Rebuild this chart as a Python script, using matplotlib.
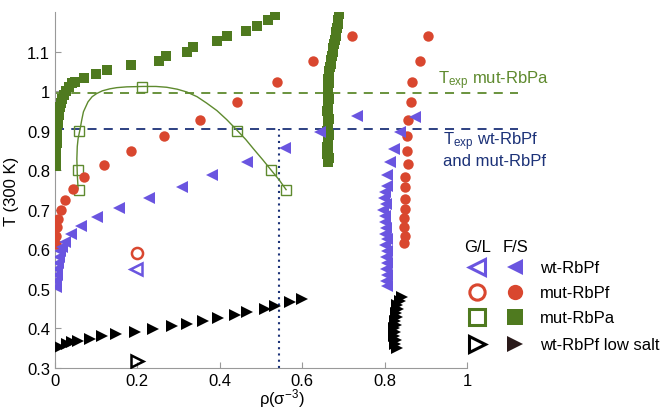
import matplotlib
matplotlib.use("Agg")
import matplotlib.pyplot as plt

plt.rcParams["font.family"] = ["Liberation Sans", "DejaVu Sans"]
plt.rcParams["mathtext.fontset"] = "custom"
plt.rcParams["mathtext.rm"] = "Liberation Sans"
plt.rcParams["mathtext.it"] = "Liberation Sans"

GREEN = "#4f7a1f"
RED = "#d9472f"
BLUE = "#6a55e0"
NAVY = "#1c3278"

# mut-RbPa F/S (filled squares)
rbpa_fs_rho = [0.002, 0.002, 0.002, 0.003, 0.003, 0.003, 0.004, 0.004, 0.005, 0.005,
               0.006, 0.007, 0.008, 0.009, 0.010, 0.012, 0.014, 0.017, 0.021, 0.026,
               0.033, 0.042, 0.048, 0.071, 0.100, 0.126, 0.184, 0.252, 0.270, 0.320,
               0.335, 0.393, 0.417, 0.463, 0.490, 0.518, 0.535,
               0.662, 0.664, 0.661, 0.663, 0.660, 0.663, 0.662, 0.664, 0.661, 0.663,
               0.662, 0.664, 0.662, 0.661, 0.663, 0.662, 0.664, 0.663, 0.662, 0.663,
               0.664, 0.663, 0.665, 0.666, 0.667, 0.669, 0.671, 0.672, 0.674, 0.676,
               0.677, 0.679, 0.681, 0.683, 0.685, 0.686, 0.688, 0.689]
rbpa_fs_T = [0.81, 0.82, 0.83, 0.84, 0.85, 0.86, 0.87, 0.88, 0.89, 0.90,
             0.91, 0.92, 0.93, 0.94, 0.95, 0.96, 0.97, 0.98, 0.99, 1.00,
             1.01, 1.02, 1.024, 1.034, 1.044, 1.054, 1.067, 1.077, 1.090, 1.100,
             1.113, 1.128, 1.140, 1.153, 1.166, 1.180, 1.193,
             0.82, 0.83, 0.84, 0.85, 0.86, 0.87, 0.88, 0.89, 0.90, 0.91,
             0.92, 0.93, 0.94, 0.95, 0.96, 0.97, 0.98, 0.99, 1.00, 1.01,
             1.02, 1.03, 1.04, 1.05, 1.06, 1.07, 1.08, 1.09, 1.10, 1.11,
             1.12, 1.13, 1.14, 1.15, 1.16, 1.17, 1.18, 1.195]

# mut-RbPa G/L (open squares) and fitted curve
rbpa_gl_rho = [0.057, 0.055, 0.059, 0.212, 0.443, 0.525, 0.561]
rbpa_gl_T = [0.751, 0.800, 0.900, 1.010, 0.900, 0.800, 0.751]
curve_rho = [0.056, 0.054, 0.053, 0.054, 0.056, 0.061, 0.065, 0.069, 0.080, 0.090, 0.101,
             0.115, 0.133, 0.150, 0.174, 0.214, 0.245, 0.271, 0.297, 0.320, 0.345, 0.368,
             0.393, 0.417, 0.443, 0.463, 0.482, 0.504, 0.525, 0.544, 0.561]
curve_T = [0.753, 0.790, 0.829, 0.860, 0.880, 0.905, 0.928, 0.948, 0.973, 0.986, 0.994,
           1.001, 1.006, 1.009, 1.011, 1.012, 1.012, 1.010, 1.005, 0.998, 0.986, 0.970,
           0.951, 0.928, 0.900, 0.878, 0.854, 0.827, 0.800, 0.776, 0.751]

# mut-RbPf F/S (filled circles)
rbpf_mut_rho = [0.002, 0.002, 0.004, 0.008, 0.014, 0.024, 0.043, 0.070, 0.120, 0.184,
                0.265, 0.352, 0.442, 0.539, 0.626, 0.721,
                0.905, 0.886, 0.866, 0.864, 0.857, 0.854, 0.854, 0.857, 0.850, 0.850,
                0.850, 0.850, 0.847, 0.847, 0.850, 0.847]
rbpf_mut_T = [0.614, 0.634, 0.657, 0.677, 0.700, 0.725, 0.753, 0.783, 0.814, 0.849,
              0.887, 0.928, 0.973, 1.024, 1.077, 1.140,
              1.140, 1.077, 1.024, 0.973, 0.928, 0.887, 0.849, 0.816, 0.784, 0.757,
              0.728, 0.703, 0.680, 0.657, 0.634, 0.616]

# wt-RbPf F/S (filled left triangles)
rbpf_wt_rho = [0.002, 0.003, 0.004, 0.005, 0.007, 0.009, 0.012, 0.016, 0.024, 0.039,
               0.063, 0.102, 0.155, 0.228, 0.308, 0.381, 0.466, 0.558, 0.643, 0.733,
               0.874, 0.837, 0.823, 0.813, 0.806, 0.806, 0.801, 0.799, 0.803, 0.797,
               0.802, 0.800, 0.804, 0.801, 0.805, 0.802, 0.805, 0.803, 0.806, 0.803,
               0.806, 0.804, 0.806]
rbpf_wt_T = [0.505, 0.520, 0.535, 0.550, 0.565, 0.580, 0.595, 0.607, 0.619, 0.639,
             0.660, 0.682, 0.705, 0.730, 0.758, 0.789, 0.822, 0.857, 0.897, 0.938,
             0.935, 0.897, 0.854, 0.822, 0.789, 0.761, 0.745, 0.730, 0.715, 0.700,
             0.685, 0.670, 0.655, 0.640, 0.625, 0.610, 0.595, 0.580, 0.565, 0.550,
             0.535, 0.520, 0.508]

# wt-RbPf low salt F/S (filled right triangles)
lowsalt_rho = [0.012, 0.029, 0.041, 0.056, 0.085, 0.114, 0.148, 0.194, 0.238, 0.284,
               0.320, 0.359, 0.396, 0.437, 0.466, 0.510, 0.534, 0.570, 0.600,
               0.830, 0.825, 0.828, 0.822, 0.826, 0.823, 0.828, 0.825, 0.830, 0.827,
               0.833, 0.831, 0.838, 0.842]
lowsalt_T = [0.353, 0.361, 0.366, 0.369, 0.373, 0.381, 0.386, 0.391, 0.399, 0.406,
             0.411, 0.419, 0.427, 0.434, 0.442, 0.449, 0.457, 0.467, 0.475,
             0.350, 0.360, 0.370, 0.380, 0.390, 0.400, 0.410, 0.420, 0.430, 0.440,
             0.450, 0.460, 0.470, 0.480]

# single G/L points
gl_rbpf_mut = (0.200, 0.591)
gl_rbpf_wt = (0.197, 0.550)
gl_lowsalt = (0.200, 0.318)

T_exp_rbpa = 0.995
T_exp_rbpf = 0.905
rho_dotted = 0.544

fig = plt.figure(figsize=(6.67, 4.10), dpi=100)
ax = fig.add_axes([0.0825, 0.10, 0.6175, 0.868])

# reference lines
ax.plot([0, 1.125], [T_exp_rbpa, T_exp_rbpa], ls=(0, (5, 4)), color="#5e8a2e", lw=1.3, clip_on=False, zorder=1)
ax.plot([0, 1.125], [T_exp_rbpf, T_exp_rbpf], ls=(0, (5, 4)), color=NAVY, lw=1.3, clip_on=False, zorder=1)
ax.plot([rho_dotted, rho_dotted], [0.3, T_exp_rbpf], ls=(0, (1, 2)), color=NAVY, lw=1.5, zorder=1)

# fit curve and G/L squares
ax.plot(curve_rho, curve_T, color="#5e8a2e", lw=1.0, zorder=2)
ax.plot(rbpa_gl_rho, rbpa_gl_T, "s", mfc="none", mec="#5e8a2e", ms=7, mew=1.0, zorder=3)

ax.plot(rbpa_fs_rho, rbpa_fs_T, "s", color=GREEN, ms=6.5, mew=0, zorder=3)
ax.plot(rbpf_mut_rho, rbpf_mut_T, "o", color=RED, ms=7.5, mew=0, zorder=3)
ax.plot(rbpf_wt_rho, rbpf_wt_T, "<", color=BLUE, ms=8, mew=0, zorder=3)
ax.plot(lowsalt_rho, lowsalt_T, ">", color="black", ms=8, mew=0, zorder=3)

ax.plot(*gl_rbpf_mut, "o", mfc="none", mec=RED, ms=8, mew=1.8, zorder=3)
ax.plot(*gl_rbpf_wt, "<", mfc="none", mec=BLUE, ms=8, mew=1.8, zorder=3)
ax.plot(*gl_lowsalt, ">", mfc="none", mec="black", ms=8, mew=1.8, zorder=3)

ax.set_xlim(0, 1)
ax.set_ylim(0.3, 1.2)
ax.set_xticks([0, 0.2, 0.4, 0.6, 0.8, 1])
ax.set_xticklabels(["0", "0.2", "0.4", "0.6", "0.8", "1"])
ax.set_yticks([0.3, 0.4, 0.5, 0.6, 0.7, 0.8, 0.9, 1.0, 1.1])
ax.set_yticklabels(["0.3", "0.4", "0.5", "0.6", "0.7", "0.8", "0.9", "1", "1.1"])
for s in ["top", "right"]:
    ax.spines[s].set_visible(False)
for s in ["left", "bottom"]:
    ax.spines[s].set_color("#999999")
ax.tick_params(direction="in", length=4, color="#999999", labelsize=12)
ax.set_xlabel("ρ(σ$^{-3}$)", fontsize=12, va="center")
ax.xaxis.set_label_coords(0.55, -0.082)
ax.set_ylabel("T (300 K)", fontsize=12, labelpad=6)

# annotations
ax.text(0.93, 1.03, r"T$_{\rm exp}$ mut-RbPa", color="#5e8a2e", fontsize=12,
        va="center", ha="left", clip_on=False)
ax.text(0.943, 0.855, "T$_{\\rm exp}$ wt-RbPf\nand mut-RbPf", color=NAVY, fontsize=12,
        va="center", ha="left", linespacing=1.05, clip_on=False)

# manual legend (axes-fraction coordinates)
def axpos(px, py):
    return (px - 55) / 412, (369 - py) / 356

tr = ax.transAxes
x, y = axpos(478, 247)
ax.text(x, y, "G/L", transform=tr, ha="center", va="center", fontsize=12)
x, y = axpos(516, 247)
ax.text(x, y, "F/S", transform=tr, ha="center", va="center", fontsize=12)
rows = [("<", BLUE, "wt-RbPf", 268), ("o", RED, "mut-RbPf", 293),
        ("s", GREEN, "mut-RbPa", 318), (">", "black", "wt-RbPf low salt", 345)]
for m, c, lab, py in rows:
    fc = "#2a1a1a" if c == "black" else c
    x, y = axpos(477, py)
    ax.plot([x], [y], m, transform=tr, mfc="none", mec=c, ms=11, mew=2.2, clip_on=False)
    x, y = axpos(515, py)
    ax.plot([x], [y], m, transform=tr, color=fc, ms=11, mew=0, clip_on=False)
    x, y = axpos(540, py)
    ax.text(x, y, lab, transform=tr, ha="left", va="center", fontsize=12)

fig.savefig("out.png", dpi=100)
